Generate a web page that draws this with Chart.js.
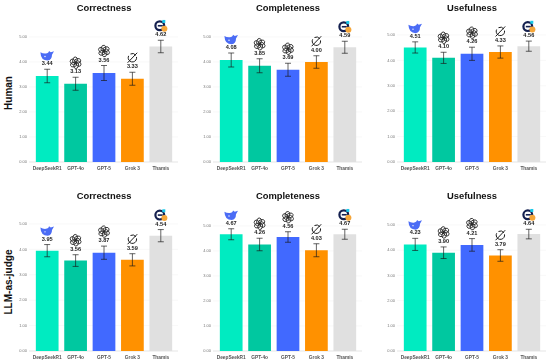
<!DOCTYPE html>
<html>
<head>
<meta charset="utf-8">
<script src="https://cdn.jsdelivr.net/npm/chart.js@4"></script>
<style>
html, body { margin: 0; padding: 0; background: #fff; overflow: hidden; }
canvas { position: absolute; }
.rowLabel { position: absolute; font: bold 10px "Liberation Sans", Arial, sans-serif; color: #111; white-space: nowrap; transform: translate(-50%, -50%) rotate(-90deg); }
</style>
</head>
<body>
<div class="rowLabel" style="left:8px;top:93px">Human</div>
<div class="rowLabel" style="left:8px;top:282px">LLM-as-judge</div>
<canvas id="c0"></canvas><canvas id="c1"></canvas><canvas id="c2"></canvas>
<canvas id="c3"></canvas><canvas id="c4"></canvas><canvas id="c5"></canvas>
<script>
const models = ["DeepSeekR1", "GPT-4o", "GPT-5", "Grok 3", "Thamis"];
const colors = ["#00EBC1", "#00C8A0", "#4169FF", "#FF9100", "#E0E0E0"];
const titles = ["Correctness", "Completeness", "Usefulness"];
const yTicks = [0, 1, 2, 3, 4, 5];

const humanCorrectness = [3.44, 3.13, 3.56, 3.33, 4.62];
const humanCompleteness = [4.08, 3.85, 3.69, 4.00, 4.59];
const humanUsefulness = [4.51, 4.10, 4.26, 4.33, 4.56];
const llmCorrectness = [3.95, 3.56, 3.87, 3.59, 4.54];
const llmCompleteness = [4.67, 4.26, 4.56, 4.03, 4.67];
const llmUsefulness = [4.23, 3.90, 4.21, 3.79, 4.64];

// half length of the error bars
const humanCorrectnessErr = [0.27, 0.26, 0.30, 0.26, 0.25];
const humanCompletenessErr = [0.28, 0.28, 0.26, 0.25, 0.24];
const humanUsefulnessErr = [0.22, 0.22, 0.26, 0.24, 0.20];
const llmCorrectnessErr = [0.24, 0.23, 0.26, 0.24, 0.24];
const llmCompletenessErr = [0.22, 0.25, 0.21, 0.26, 0.20];
const llmUsefulnessErr = [0.24, 0.23, 0.25, 0.23, 0.19];

// whale
function drawWhale(ctx, x, y) {
    y += 1;
    ctx.fillStyle = "#4B6CF5";
    ctx.beginPath();
    ctx.moveTo(x - 6.8, y - 3.6);
    ctx.quadraticCurveTo(x - 6.4, y + 4.8, x + 0.5, y + 4.8);
    ctx.quadraticCurveTo(x + 4.8, y + 4.2, x + 4.8, y - 1);
    ctx.lineTo(x + 6.8, y - 4.6);
    ctx.lineTo(x + 3.6, y - 3.6);
    ctx.lineTo(x + 1.8, y - 4.8);
    ctx.quadraticCurveTo(x + 1.5, y - 2.4, x - 1.5, y - 2.2);
    ctx.quadraticCurveTo(x - 4.5, y - 2, x - 6.8, y - 3.6);
    ctx.fill();
    ctx.fillStyle = "#fff";
    ctx.beginPath();
    ctx.arc(x - 2.2, y + 0.8, 0.7, 0, Math.PI * 2);
    ctx.fill();
}

// rosette of rounded loops
function drawKnot(ctx, x, y) {
    ctx.strokeStyle = "#2a2a2a";
    ctx.lineWidth = 0.85;
    for (let i = 0; i < 6; i++) {
        const a = i * Math.PI / 3 + 0.3;
        ctx.save();
        ctx.translate(x + Math.cos(a) * 2.7, y + Math.sin(a) * 2.7);
        ctx.rotate(a + 0.5);
        ctx.beginPath();
        ctx.ellipse(0, 0, 3.2, 2.3, 0, 0, Math.PI * 2);
        ctx.stroke();
        ctx.restore();
    }
}

function drawGrok(ctx, x, y) {
    ctx.strokeStyle = "#1a1a1a";
    ctx.lineWidth = 1;
    ctx.beginPath();
    ctx.arc(x, y, 4.2, -0.2, Math.PI * 1.15);
    ctx.stroke();
    ctx.beginPath();
    ctx.arc(x, y, 4.2, Math.PI * 1.35, Math.PI * 1.8);
    ctx.stroke();
    ctx.beginPath();
    ctx.moveTo(x - 4.8, y + 5);
    ctx.lineTo(x + 4.8, y - 5);
    ctx.stroke();
}

function drawThamis(ctx, x, y) {
    ctx.strokeStyle = "#14204F";
    ctx.lineWidth = 2.2;
    ctx.beginPath();
    ctx.arc(x - 1, y, 4.4, 0, Math.PI * 2);
    ctx.stroke();
    ctx.fillStyle = "#14204F";
    ctx.fillRect(x - 3, y - 0.8, 5, 1.6);
    ctx.fillStyle = "#18C8E8";
    ctx.fillRect(x + 1.5, y - 5.8, 3, 3);
    ctx.fillStyle = "#F5A63A";
    ctx.beginPath();
    ctx.arc(x + 3.6, y + 3, 3, 0, Math.PI * 2);
    ctx.fill();
}

const icons = [drawWhale, drawKnot, drawKnot, drawGrok, drawThamis];

// y grid lines run a little past the plot area on both sides
const gridPlugin = {
    id: "wideGrid",
    beforeDatasetsDraw(chart) {
        const { ctx, chartArea, scales } = chart;
        ctx.save();
        ctx.lineWidth = 0.6;
        yTicks.forEach(t => {
            const y = scales.y.getPixelForValue(t);
            ctx.strokeStyle = t === 0 ? "#d4d4d4" : "#f4f4f4";
            ctx.beginPath();
            ctx.moveTo(chartArea.left - 4, y);
            ctx.lineTo(chartArea.right + 3, y);
            ctx.stroke();
        });
        ctx.restore();
    }
};

// error bars, value labels and logos above each bar
const barExtras = {
    id: "barExtras",
    afterDatasetsDraw(chart) {
        const { ctx, scales } = chart;
        const ds = chart.data.datasets[0];
        ctx.save();
        ds.data.forEach((v, i) => {
            const x = scales.x.getPixelForValue(i);
            const hi = scales.y.getPixelForValue(v + ds.err[i]);
            const lo = scales.y.getPixelForValue(v - ds.err[i]);
            ctx.strokeStyle = "rgba(25,25,25,0.85)";
            ctx.lineWidth = 0.8;
            ctx.beginPath();
            ctx.moveTo(x, hi); ctx.lineTo(x, lo);
            ctx.moveTo(x - 3, hi); ctx.lineTo(x + 3, hi);
            ctx.moveTo(x - 3, lo); ctx.lineTo(x + 3, lo);
            ctx.stroke();
            ctx.fillStyle = "#222";
            ctx.font = 'bold 5.6px "Liberation Sans", Arial, sans-serif';
            ctx.textAlign = "center";
            ctx.textBaseline = "middle";
            ctx.fillText(v.toFixed(2), x, hi - 5.5);
            icons[i](ctx, x, hi - 14.5);
        });
        ctx.restore();
    }
};

function makePanel(id, title, values, errs, box) {
    const el = document.getElementById(id);
    el.style.left = box.left + "px";
    el.style.top = box.top + "px";
    el.width = box.width;
    el.height = box.height;
    new Chart(el, {
        type: "bar",
        data: {
            labels: models,
            datasets: [{ data: values, err: errs, backgroundColor: colors, barPercentage: 0.8, categoryPercentage: 1 }]
        },
        options: {
            responsive: false,
            animation: false,
            devicePixelRatio: 1,
            layout: { padding: { left: 0, right: box.left + box.width - box.plotRight, top: 0, bottom: 0 } },
            plugins: {
                legend: { display: false },
                tooltip: { enabled: false },
                title: {
                    display: true,
                    text: title,
                    fullSize: false,
                    color: "#111",
                    font: { family: '"Liberation Sans", Arial, sans-serif', size: 9.4, weight: "bold", lineHeight: 1.2 },
                    padding: { top: box.titleTop - box.top, bottom: box.y5 - box.titleTop - 11.28 }
                }
            },
            scales: {
                x: {
                    grid: { display: false, drawTicks: false },
                    border: { display: false },
                    ticks: { color: "#555", padding: 4, maxRotation: 0, autoSkip: false, font: { family: '"Liberation Sans", Arial, sans-serif', size: 4.8, weight: "bold" } },
                    afterFit(s) { s.height = box.top + box.height - box.y0; }
                },
                y: {
                    min: 0,
                    max: 5,
                    grid: { display: false, drawTicks: false },
                    border: { display: false },
                    afterBuildTicks(s) { s.ticks = yTicks.map(v => ({ value: v })); },
                    ticks: { color: "#777", padding: 6, callback: v => v.toFixed(2), font: { family: '"Liberation Sans", Arial, sans-serif', size: 4 } },
                    afterFit(s) { s.width = box.plotLeft - box.left; }
                }
            }
        },
        plugins: [gridPlugin, barExtras]
    });
}

makePanel("c0", titles[0], humanCorrectness, humanCorrectnessErr, { left: 0, top: 0, width: 184, height: 180, plotLeft: 33, plotRight: 175, y5: 37, y0: 162, titleTop: 3 });
makePanel("c1", titles[1], humanCompleteness, humanCompletenessErr, { left: 184, top: 0, width: 182, height: 180, plotLeft: 217, plotRight: 359, y5: 37, y0: 162, titleTop: 3 });
makePanel("c2", titles[2], humanUsefulness, humanUsefulnessErr, { left: 366, top: 0, width: 184, height: 180, plotLeft: 401, plotRight: 543, y5: 35, y0: 162, titleTop: 3 });
makePanel("c3", titles[0], llmCorrectness, llmCorrectnessErr, { left: 0, top: 181, width: 184, height: 182, plotLeft: 33, plotRight: 175, y5: 224, y0: 351, titleTop: 191 });
makePanel("c4", titles[1], llmCompleteness, llmCompletenessErr, { left: 184, top: 181, width: 182, height: 182, plotLeft: 217, plotRight: 359, y5: 226, y0: 351, titleTop: 191 });
makePanel("c5", titles[2], llmUsefulness, llmUsefulnessErr, { left: 366, top: 181, width: 184, height: 182, plotLeft: 401, plotRight: 543, y5: 225, y0: 351, titleTop: 191 });
</script>
</body>
</html>
